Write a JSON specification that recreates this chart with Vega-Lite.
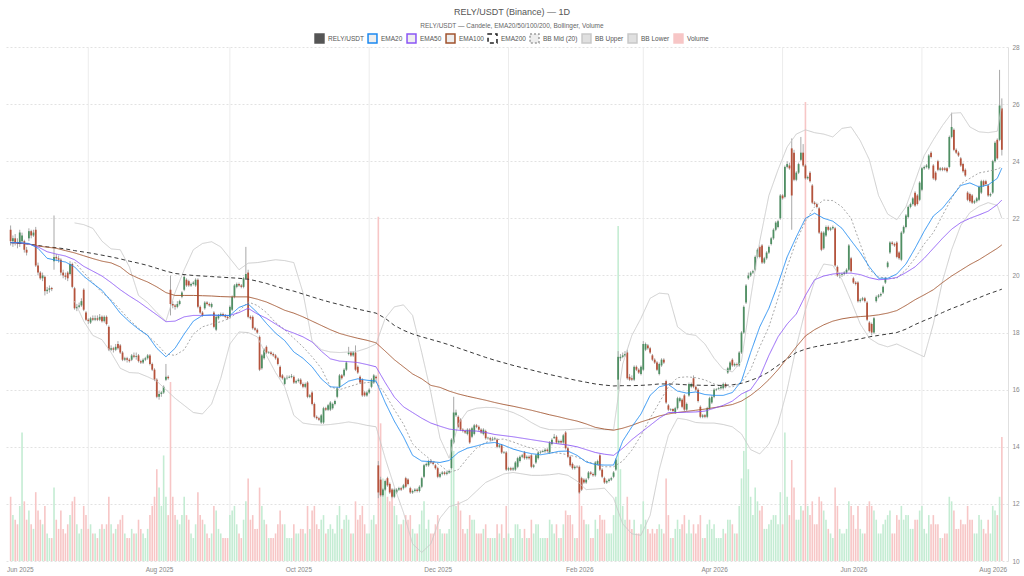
{
  "$schema": "https://vega.github.io/schema/vega-lite/v6.json",
  "width": 1004,
  "height": 514,
  "autosize": {"type": "none"},
  "padding": {"left": 4, "top": 47, "right": 16, "bottom": 15},
  "background": "white",
  "title": {
    "text": "RELY/USDT (Binance) — 1D",
    "subtitle": "RELY/USDT — Candele, EMA20/50/100/200, Bollinger, Volume",
    "fontSize": 9, "fontWeight": "normal", "color": "#555555",
    "subtitleFontSize": 6.5, "subtitleColor": "#666666", "subtitlePadding": 6,
    "anchor": "middle", "frame": "group", "offset": 4, "dx": 6
  },
  "datasets": {
    "grid": [
{"t":"2025-07-01"},{"t":"2025-09-01"},{"t":"2025-11-01"},{"t":"2026-01-01"},{"t":"2026-03-01"},{"t":"2026-05-01"},{"t":"2026-07-01"}
    ],
    "k": [
{"t":"2025-05-28","o":21.6,"h":21.75,"l":21.05,"c":21.2,"v":14},
{"t":"2025-05-29","o":21.2,"h":21.4,"l":21.0,"c":21.3,"v":10},
{"t":"2025-05-30","o":21.3,"h":21.45,"l":21.05,"c":21.15,"v":9},
{"t":"2025-05-31","o":21.15,"h":21.3,"l":20.95,"c":21.1,"v":8},
{"t":"2025-06-01","o":21.1,"h":21.6,"l":21.0,"c":21.5,"v":12},
{"t":"2025-06-02","o":21.2,"h":21.5,"l":21.1,"c":21.4,"v":28},
{"t":"2025-06-03","o":21.2,"h":21.25,"l":20.8,"c":20.9,"v":13},
{"t":"2025-06-04","o":20.9,"h":21.0,"l":20.7,"c":20.8,"v":9},
{"t":"2025-06-05","o":21.3,"h":21.65,"l":21.2,"c":21.55,"v":11},
{"t":"2025-06-06","o":21.55,"h":21.6,"l":21.3,"c":21.4,"v":8},
{"t":"2025-06-07","o":21.4,"h":21.6,"l":21.35,"c":21.5,"v":7},
{"t":"2025-06-08","o":21.6,"h":21.7,"l":20.3,"c":20.35,"v":15},
{"t":"2025-06-09","o":20.35,"h":20.45,"l":20.0,"c":20.1,"v":11},
{"t":"2025-06-10","o":20.1,"h":20.15,"l":19.85,"c":19.9,"v":9},
{"t":"2025-06-11","o":19.9,"h":20.1,"l":19.8,"c":20.0,"v":8},
{"t":"2025-06-12","o":19.95,"h":20.0,"l":19.3,"c":19.45,"v":12},
{"t":"2025-06-13","o":19.45,"h":19.6,"l":19.35,"c":19.5,"v":6},
{"t":"2025-06-14","o":19.5,"h":19.65,"l":19.4,"c":19.55,"v":5},
{"t":"2025-06-15","o":19.56,"h":19.6,"l":19.45,"c":19.52,"v":5},
{"t":"2025-06-16","o":20.5,"h":22.1,"l":20.2,"c":20.65,"v":16},
{"t":"2025-06-17","o":20.65,"h":20.75,"l":20.5,"c":20.6,"v":9},
{"t":"2025-06-18","o":20.6,"h":20.7,"l":20.45,"c":20.55,"v":7},
{"t":"2025-06-19","o":20.55,"h":20.6,"l":20.0,"c":20.1,"v":11},
{"t":"2025-06-20","o":20.1,"h":20.2,"l":19.9,"c":20.0,"v":7},
{"t":"2025-06-21","o":20.0,"h":20.1,"l":19.85,"c":19.95,"v":6},
{"t":"2025-06-22","o":20.1,"h":20.15,"l":19.8,"c":19.9,"v":8},
{"t":"2025-06-23","o":20.05,"h":20.5,"l":20.0,"c":20.4,"v":10},
{"t":"2025-06-24","o":20.4,"h":20.45,"l":19.55,"c":19.6,"v":13},
{"t":"2025-06-25","o":19.55,"h":19.6,"l":18.8,"c":18.85,"v":14},
{"t":"2025-06-26","o":18.85,"h":19.0,"l":18.75,"c":18.9,"v":8},
{"t":"2025-06-27","o":18.9,"h":19.05,"l":18.85,"c":18.95,"v":6},
{"t":"2025-06-28","o":18.95,"h":19.2,"l":18.9,"c":19.1,"v":7},
{"t":"2025-06-29","o":19.5,"h":19.55,"l":18.75,"c":18.8,"v":12},
{"t":"2025-06-30","o":18.7,"h":18.75,"l":18.4,"c":18.45,"v":10},
{"t":"2025-07-01","o":18.45,"h":18.5,"l":18.3,"c":18.4,"v":7},
{"t":"2025-07-02","o":18.35,"h":18.55,"l":18.3,"c":18.5,"v":8},
{"t":"2025-07-03","o":18.5,"h":18.6,"l":18.4,"c":18.45,"v":6},
{"t":"2025-07-04","o":18.45,"h":18.6,"l":18.4,"c":18.5,"v":6},
{"t":"2025-07-05","o":18.5,"h":18.6,"l":18.4,"c":18.45,"v":5},
{"t":"2025-07-06","o":18.45,"h":18.65,"l":18.4,"c":18.55,"v":7},
{"t":"2025-07-07","o":18.55,"h":18.6,"l":18.35,"c":18.4,"v":8},
{"t":"2025-07-08","o":18.4,"h":18.6,"l":18.35,"c":18.55,"v":7},
{"t":"2025-07-09","o":18.55,"h":18.6,"l":18.25,"c":18.3,"v":8},
{"t":"2025-07-10","o":18.2,"h":18.25,"l":17.35,"c":17.4,"v":14},
{"t":"2025-07-11","o":17.4,"h":17.55,"l":17.35,"c":17.45,"v":8},
{"t":"2025-07-12","o":17.45,"h":17.5,"l":17.3,"c":17.4,"v":6},
{"t":"2025-07-13","o":17.4,"h":17.6,"l":17.35,"c":17.5,"v":7},
{"t":"2025-07-14","o":17.6,"h":17.7,"l":17.4,"c":17.45,"v":8},
{"t":"2025-07-15","o":17.55,"h":17.6,"l":17.25,"c":17.3,"v":9},
{"t":"2025-07-16","o":17.3,"h":17.35,"l":17.0,"c":17.05,"v":10},
{"t":"2025-07-17","o":17.05,"h":17.15,"l":17.0,"c":17.1,"v":6},
{"t":"2025-07-18","o":17.1,"h":17.15,"l":16.95,"c":17.05,"v":5},
{"t":"2025-07-19","o":17.05,"h":17.1,"l":16.95,"c":17.0,"v":5},
{"t":"2025-07-20","o":17.05,"h":17.25,"l":17.0,"c":17.2,"v":7},
{"t":"2025-07-21","o":17.2,"h":17.3,"l":17.1,"c":17.15,"v":6},
{"t":"2025-07-22","o":17.15,"h":17.3,"l":17.05,"c":17.18,"v":6},
{"t":"2025-07-23","o":17.2,"h":17.25,"l":16.95,"c":17.0,"v":9},
{"t":"2025-07-24","o":17.0,"h":17.05,"l":16.9,"c":16.95,"v":7},
{"t":"2025-07-25","o":16.95,"h":17.1,"l":16.9,"c":17.05,"v":6},
{"t":"2025-07-26","o":17.05,"h":17.15,"l":17.0,"c":17.1,"v":5},
{"t":"2025-07-27","o":17.1,"h":17.25,"l":17.05,"c":17.2,"v":7},
{"t":"2025-07-28","o":17.2,"h":17.25,"l":16.85,"c":16.9,"v":10},
{"t":"2025-07-29","o":16.9,"h":16.95,"l":16.65,"c":16.7,"v":12},
{"t":"2025-07-30","o":16.7,"h":16.75,"l":16.3,"c":16.35,"v":14},
{"t":"2025-07-31","o":16.35,"h":16.4,"l":15.7,"c":15.75,"v":20},
{"t":"2025-08-01","o":15.75,"h":15.95,"l":15.65,"c":15.85,"v":16},
{"t":"2025-08-02","o":15.85,"h":15.95,"l":15.75,"c":15.9,"v":12},
{"t":"2025-08-03","o":15.9,"h":16.15,"l":15.85,"c":16.1,"v":23},
{"t":"2025-08-04","o":16.35,"h":16.9,"l":16.3,"c":16.45,"v":14},
{"t":"2025-08-05","o":16.45,"h":16.5,"l":16.35,"c":16.4,"v":10},
{"t":"2025-08-06","o":19.5,"h":20.0,"l":18.6,"c":19.0,"v":39},
{"t":"2025-08-07","o":19.0,"h":19.1,"l":18.85,"c":18.95,"v":14},
{"t":"2025-08-08","o":18.95,"h":19.0,"l":18.8,"c":18.9,"v":10},
{"t":"2025-08-09","o":18.9,"h":19.1,"l":18.85,"c":19.0,"v":9},
{"t":"2025-08-10","o":19.0,"h":19.15,"l":18.95,"c":19.1,"v":8},
{"t":"2025-08-11","o":19.25,"h":19.45,"l":19.2,"c":19.4,"v":10},
{"t":"2025-08-12","o":19.5,"h":20.05,"l":19.45,"c":19.95,"v":14},
{"t":"2025-08-13","o":19.85,"h":19.9,"l":19.6,"c":19.65,"v":10},
{"t":"2025-08-14","o":19.8,"h":19.85,"l":19.6,"c":19.65,"v":9},
{"t":"2025-08-15","o":19.65,"h":19.75,"l":19.6,"c":19.7,"v":6},
{"t":"2025-08-16","o":19.7,"h":19.8,"l":19.65,"c":19.75,"v":5},
{"t":"2025-08-17","o":19.65,"h":19.9,"l":19.6,"c":19.85,"v":8},
{"t":"2025-08-18","o":19.85,"h":19.9,"l":18.85,"c":18.9,"v":15},
{"t":"2025-08-19","o":18.9,"h":18.95,"l":18.65,"c":18.7,"v":10},
{"t":"2025-08-20","o":18.7,"h":18.75,"l":18.55,"c":18.6,"v":9},
{"t":"2025-08-21","o":18.85,"h":19.1,"l":18.8,"c":19.05,"v":8},
{"t":"2025-08-22","o":19.05,"h":19.1,"l":18.95,"c":19.0,"v":6},
{"t":"2025-08-23","o":19.0,"h":19.05,"l":18.9,"c":18.95,"v":5},
{"t":"2025-08-24","o":18.9,"h":19.05,"l":18.85,"c":19.0,"v":6},
{"t":"2025-08-25","o":18.7,"h":18.75,"l":18.15,"c":18.2,"v":12},
{"t":"2025-08-26","o":18.1,"h":18.6,"l":18.05,"c":18.55,"v":11},
{"t":"2025-08-27","o":18.5,"h":18.65,"l":18.45,"c":18.6,"v":7},
{"t":"2025-08-28","o":18.6,"h":18.7,"l":18.55,"c":18.65,"v":6},
{"t":"2025-08-29","o":18.65,"h":18.7,"l":18.55,"c":18.6,"v":5},
{"t":"2025-08-30","o":18.6,"h":18.65,"l":18.5,"c":18.55,"v":5},
{"t":"2025-08-31","o":18.55,"h":18.6,"l":18.45,"c":18.5,"v":5},
{"t":"2025-09-01","o":18.55,"h":18.95,"l":18.5,"c":18.9,"v":10},
{"t":"2025-09-02","o":18.8,"h":19.3,"l":18.75,"c":19.25,"v":11},
{"t":"2025-09-03","o":19.25,"h":19.7,"l":19.2,"c":19.65,"v":12},
{"t":"2025-09-04","o":19.6,"h":19.75,"l":19.55,"c":19.7,"v":8},
{"t":"2025-09-05","o":19.7,"h":19.75,"l":19.6,"c":19.65,"v":6},
{"t":"2025-09-06","o":19.65,"h":19.7,"l":19.55,"c":19.6,"v":5},
{"t":"2025-09-07","o":19.6,"h":19.95,"l":19.55,"c":19.9,"v":9},
{"t":"2025-09-08","o":19.9,"h":21.0,"l":19.85,"c":20.05,"v":13},
{"t":"2025-09-09","o":20.1,"h":20.2,"l":18.5,"c":18.55,"v":18},
{"t":"2025-09-10","o":18.55,"h":18.6,"l":18.45,"c":18.5,"v":9},
{"t":"2025-09-11","o":18.55,"h":18.6,"l":18.1,"c":18.15,"v":10},
{"t":"2025-09-12","o":18.15,"h":18.2,"l":18.05,"c":18.1,"v":7},
{"t":"2025-09-13","o":18.1,"h":18.15,"l":17.95,"c":18.0,"v":7},
{"t":"2025-09-14","o":17.85,"h":17.9,"l":16.65,"c":16.7,"v":16},
{"t":"2025-09-15","o":16.75,"h":17.25,"l":16.7,"c":17.2,"v":12},
{"t":"2025-09-16","o":17.1,"h":17.45,"l":17.05,"c":17.4,"v":9},
{"t":"2025-09-17","o":17.5,"h":17.55,"l":17.25,"c":17.3,"v":8},
{"t":"2025-09-18","o":17.3,"h":17.35,"l":17.25,"c":17.32,"v":5},
{"t":"2025-09-19","o":17.3,"h":17.35,"l":17.2,"c":17.25,"v":5},
{"t":"2025-09-20","o":17.25,"h":17.3,"l":17.15,"c":17.2,"v":5},
{"t":"2025-09-21","o":17.2,"h":17.25,"l":17.05,"c":17.1,"v":6},
{"t":"2025-09-22","o":17.1,"h":17.15,"l":16.85,"c":16.9,"v":8},
{"t":"2025-09-23","o":16.8,"h":16.85,"l":16.4,"c":16.45,"v":11},
{"t":"2025-09-24","o":16.5,"h":16.55,"l":16.35,"c":16.4,"v":8},
{"t":"2025-09-25","o":16.2,"h":16.45,"l":16.15,"c":16.4,"v":8},
{"t":"2025-09-26","o":16.4,"h":16.5,"l":16.35,"c":16.42,"v":5},
{"t":"2025-09-27","o":16.42,"h":16.5,"l":16.4,"c":16.45,"v":5},
{"t":"2025-09-28","o":16.45,"h":16.55,"l":16.4,"c":16.48,"v":5},
{"t":"2025-09-29","o":16.45,"h":16.5,"l":16.2,"c":16.25,"v":8},
{"t":"2025-09-30","o":16.25,"h":16.35,"l":16.2,"c":16.3,"v":6},
{"t":"2025-10-01","o":16.3,"h":16.4,"l":16.25,"c":16.35,"v":6},
{"t":"2025-10-02","o":16.35,"h":16.4,"l":16.15,"c":16.2,"v":7},
{"t":"2025-10-03","o":16.2,"h":16.25,"l":16.05,"c":16.1,"v":7},
{"t":"2025-10-04","o":16.1,"h":16.25,"l":16.05,"c":16.2,"v":6},
{"t":"2025-10-05","o":16.25,"h":16.3,"l":15.7,"c":15.75,"v":12},
{"t":"2025-10-06","o":15.75,"h":15.85,"l":15.7,"c":15.8,"v":7},
{"t":"2025-10-07","o":15.9,"h":15.95,"l":15.45,"c":15.5,"v":11},
{"t":"2025-10-08","o":15.5,"h":15.55,"l":15.0,"c":15.05,"v":12},
{"t":"2025-10-09","o":15.05,"h":15.1,"l":14.95,"c":15.0,"v":8},
{"t":"2025-10-10","o":15.0,"h":15.05,"l":14.9,"c":14.95,"v":7},
{"t":"2025-10-11","o":14.85,"h":15.15,"l":14.8,"c":15.1,"v":9},
{"t":"2025-10-12","o":14.85,"h":15.4,"l":14.8,"c":15.35,"v":10},
{"t":"2025-10-13","o":15.35,"h":15.4,"l":15.25,"c":15.3,"v":6},
{"t":"2025-10-14","o":15.3,"h":15.5,"l":15.25,"c":15.45,"v":7},
{"t":"2025-10-15","o":15.3,"h":15.6,"l":15.25,"c":15.55,"v":8},
{"t":"2025-10-16","o":15.35,"h":15.55,"l":15.3,"c":15.5,"v":7},
{"t":"2025-10-17","o":15.5,"h":15.65,"l":15.45,"c":15.6,"v":6},
{"t":"2025-10-18","o":15.75,"h":16.1,"l":15.7,"c":16.05,"v":10},
{"t":"2025-10-19","o":16.1,"h":16.55,"l":16.05,"c":16.5,"v":12},
{"t":"2025-10-20","o":16.5,"h":16.55,"l":16.35,"c":16.4,"v":7},
{"t":"2025-10-21","o":16.5,"h":16.75,"l":16.45,"c":16.7,"v":9},
{"t":"2025-10-22","o":16.7,"h":17.0,"l":16.65,"c":16.95,"v":10},
{"t":"2025-10-23","o":17.25,"h":17.5,"l":17.2,"c":17.3,"v":9},
{"t":"2025-10-24","o":17.3,"h":17.35,"l":17.15,"c":17.2,"v":6},
{"t":"2025-10-25","o":17.2,"h":17.35,"l":17.15,"c":17.3,"v":6},
{"t":"2025-10-26","o":17.3,"h":17.55,"l":16.65,"c":16.7,"v":13},
{"t":"2025-10-27","o":16.8,"h":16.85,"l":16.55,"c":16.6,"v":9},
{"t":"2025-10-28","o":16.45,"h":16.5,"l":16.2,"c":16.25,"v":10},
{"t":"2025-10-29","o":16.35,"h":16.4,"l":15.75,"c":15.8,"v":12},
{"t":"2025-10-30","o":15.9,"h":15.95,"l":15.75,"c":15.8,"v":8},
{"t":"2025-10-31","o":15.8,"h":15.95,"l":15.75,"c":15.9,"v":6},
{"t":"2025-11-01","o":15.9,"h":16.05,"l":15.85,"c":16.0,"v":6},
{"t":"2025-11-02","o":16.1,"h":16.4,"l":16.05,"c":16.35,"v":9},
{"t":"2025-11-03","o":16.25,"h":16.55,"l":16.2,"c":16.5,"v":10},
{"t":"2025-11-04","o":16.45,"h":16.5,"l":16.3,"c":16.4,"v":8},
{"t":"2025-11-05","o":13.35,"h":13.5,"l":12.2,"c":12.4,"v":75},
{"t":"2025-11-06","o":12.85,"h":12.95,"l":12.25,"c":12.3,"v":30},
{"t":"2025-11-07","o":12.3,"h":12.55,"l":12.25,"c":12.5,"v":18},
{"t":"2025-11-08","o":12.5,"h":12.85,"l":12.45,"c":12.8,"v":16},
{"t":"2025-11-09","o":12.9,"h":12.95,"l":12.6,"c":12.65,"v":14},
{"t":"2025-11-10","o":12.7,"h":12.75,"l":12.35,"c":12.4,"v":13},
{"t":"2025-11-11","o":12.5,"h":12.55,"l":12.2,"c":12.25,"v":14},
{"t":"2025-11-12","o":12.25,"h":12.55,"l":12.2,"c":12.5,"v":12},
{"t":"2025-11-13","o":12.4,"h":12.55,"l":12.35,"c":12.5,"v":10},
{"t":"2025-11-14","o":12.5,"h":12.6,"l":12.45,"c":12.55,"v":8},
{"t":"2025-11-15","o":12.55,"h":12.6,"l":12.45,"c":12.5,"v":8},
{"t":"2025-11-16","o":12.55,"h":12.7,"l":12.5,"c":12.65,"v":9},
{"t":"2025-11-17","o":12.9,"h":12.95,"l":12.55,"c":12.6,"v":10},
{"t":"2025-11-18","o":12.85,"h":12.9,"l":12.65,"c":12.7,"v":9},
{"t":"2025-11-19","o":12.55,"h":12.6,"l":12.35,"c":12.4,"v":10},
{"t":"2025-11-20","o":12.4,"h":12.5,"l":12.35,"c":12.45,"v":7},
{"t":"2025-11-21","o":12.45,"h":12.55,"l":12.4,"c":12.5,"v":6},
{"t":"2025-11-22","o":12.5,"h":12.55,"l":12.4,"c":12.45,"v":6},
{"t":"2025-11-23","o":12.45,"h":12.65,"l":12.4,"c":12.6,"v":8},
{"t":"2025-11-24","o":12.6,"h":12.95,"l":12.55,"c":12.9,"v":11},
{"t":"2025-11-25","o":12.95,"h":13.4,"l":12.9,"c":13.35,"v":13},
{"t":"2025-11-26","o":13.35,"h":13.45,"l":13.3,"c":13.4,"v":7},
{"t":"2025-11-27","o":13.35,"h":13.55,"l":13.3,"c":13.5,"v":9},
{"t":"2025-11-28","o":13.5,"h":13.55,"l":13.4,"c":13.45,"v":6},
{"t":"2025-11-29","o":13.45,"h":13.5,"l":13.35,"c":13.4,"v":6},
{"t":"2025-11-30","o":13.35,"h":13.4,"l":13.2,"c":13.25,"v":8},
{"t":"2025-12-01","o":13.25,"h":13.3,"l":12.9,"c":12.95,"v":10},
{"t":"2025-12-02","o":12.95,"h":13.1,"l":12.9,"c":13.05,"v":7},
{"t":"2025-12-03","o":13.05,"h":13.15,"l":13.0,"c":13.1,"v":6},
{"t":"2025-12-04","o":13.1,"h":13.15,"l":13.0,"c":13.05,"v":6},
{"t":"2025-12-05","o":13.05,"h":13.15,"l":13.0,"c":13.1,"v":6},
{"t":"2025-12-06","o":13.1,"h":13.2,"l":13.05,"c":13.15,"v":7},
{"t":"2025-12-07","o":13.25,"h":14.3,"l":13.2,"c":14.25,"v":20},
{"t":"2025-12-08","o":14.15,"h":15.75,"l":14.1,"c":15.2,"v":24},
{"t":"2025-12-09","o":15.1,"h":15.3,"l":15.05,"c":15.2,"v":12},
{"t":"2025-12-10","o":15.05,"h":15.1,"l":14.65,"c":14.7,"v":13},
{"t":"2025-12-11","o":14.95,"h":15.0,"l":14.55,"c":14.6,"v":11},
{"t":"2025-12-12","o":14.6,"h":14.65,"l":14.5,"c":14.55,"v":7},
{"t":"2025-12-13","o":14.55,"h":14.6,"l":14.45,"c":14.5,"v":6},
{"t":"2025-12-14","o":14.45,"h":14.65,"l":14.4,"c":14.6,"v":7},
{"t":"2025-12-15","o":14.6,"h":14.65,"l":14.1,"c":14.15,"v":10},
{"t":"2025-12-16","o":14.35,"h":14.7,"l":14.3,"c":14.65,"v":9},
{"t":"2025-12-17","o":14.45,"h":14.8,"l":14.4,"c":14.75,"v":9},
{"t":"2025-12-18","o":14.75,"h":14.8,"l":14.65,"c":14.7,"v":6},
{"t":"2025-12-19","o":14.7,"h":14.75,"l":14.55,"c":14.6,"v":6},
{"t":"2025-12-20","o":14.6,"h":14.65,"l":14.45,"c":14.5,"v":6},
{"t":"2025-12-21","o":14.45,"h":14.65,"l":14.4,"c":14.6,"v":7},
{"t":"2025-12-22","o":14.55,"h":14.6,"l":14.25,"c":14.3,"v":8},
{"t":"2025-12-23","o":14.3,"h":14.35,"l":14.25,"c":14.32,"v":5},
{"t":"2025-12-24","o":14.3,"h":14.35,"l":14.2,"c":14.25,"v":5},
{"t":"2025-12-25","o":14.25,"h":14.35,"l":14.2,"c":14.28,"v":5},
{"t":"2025-12-26","o":14.28,"h":14.35,"l":14.25,"c":14.3,"v":5},
{"t":"2025-12-27","o":14.25,"h":14.3,"l":13.95,"c":14.0,"v":8},
{"t":"2025-12-28","o":14.0,"h":14.1,"l":13.95,"c":14.05,"v":6},
{"t":"2025-12-29","o":14.05,"h":14.1,"l":13.75,"c":13.8,"v":8},
{"t":"2025-12-30","o":13.8,"h":13.85,"l":13.75,"c":13.82,"v":5},
{"t":"2025-12-31","o":13.8,"h":13.85,"l":13.15,"c":13.2,"v":12},
{"t":"2026-01-01","o":13.2,"h":13.3,"l":13.15,"c":13.25,"v":6},
{"t":"2026-01-02","o":13.25,"h":13.3,"l":13.15,"c":13.2,"v":5},
{"t":"2026-01-03","o":13.2,"h":13.3,"l":13.15,"c":13.25,"v":5},
{"t":"2026-01-04","o":13.2,"h":13.5,"l":13.15,"c":13.45,"v":8},
{"t":"2026-01-05","o":13.3,"h":13.65,"l":13.25,"c":13.6,"v":8},
{"t":"2026-01-06","o":13.5,"h":13.7,"l":13.45,"c":13.65,"v":7},
{"t":"2026-01-07","o":13.65,"h":13.75,"l":13.6,"c":13.7,"v":5},
{"t":"2026-01-08","o":13.8,"h":13.85,"l":13.55,"c":13.6,"v":7},
{"t":"2026-01-09","o":13.6,"h":13.7,"l":13.55,"c":13.65,"v":5},
{"t":"2026-01-10","o":13.65,"h":13.7,"l":13.55,"c":13.6,"v":5},
{"t":"2026-01-11","o":13.7,"h":13.75,"l":13.25,"c":13.3,"v":9},
{"t":"2026-01-12","o":13.3,"h":13.4,"l":13.25,"c":13.35,"v":6},
{"t":"2026-01-13","o":13.45,"h":13.75,"l":13.4,"c":13.7,"v":8},
{"t":"2026-01-14","o":13.6,"h":13.85,"l":13.55,"c":13.8,"v":8},
{"t":"2026-01-15","o":13.8,"h":13.85,"l":13.75,"c":13.82,"v":5},
{"t":"2026-01-16","o":13.82,"h":13.9,"l":13.8,"c":13.85,"v":5},
{"t":"2026-01-17","o":13.85,"h":13.95,"l":13.8,"c":13.9,"v":5},
{"t":"2026-01-18","o":13.9,"h":13.95,"l":13.8,"c":13.85,"v":5},
{"t":"2026-01-19","o":13.8,"h":14.2,"l":13.75,"c":14.15,"v":9},
{"t":"2026-01-20","o":14.1,"h":14.3,"l":14.05,"c":14.25,"v":8},
{"t":"2026-01-21","o":14.3,"h":14.45,"l":14.28,"c":14.35,"v":6},
{"t":"2026-01-22","o":14.35,"h":14.4,"l":14.1,"c":14.15,"v":8},
{"t":"2026-01-23","o":14.15,"h":14.25,"l":14.1,"c":14.2,"v":5},
{"t":"2026-01-24","o":14.2,"h":14.25,"l":14.1,"c":14.15,"v":5},
{"t":"2026-01-25","o":14.15,"h":14.45,"l":14.1,"c":14.4,"v":8},
{"t":"2026-01-26","o":14.5,"h":14.55,"l":13.9,"c":13.95,"v":11},
{"t":"2026-01-27","o":13.95,"h":14.0,"l":13.6,"c":13.65,"v":10},
{"t":"2026-01-28","o":13.65,"h":13.7,"l":13.3,"c":13.35,"v":10},
{"t":"2026-01-29","o":13.4,"h":13.45,"l":13.2,"c":13.25,"v":8},
{"t":"2026-01-30","o":13.25,"h":13.35,"l":13.2,"c":13.3,"v":5},
{"t":"2026-01-31","o":13.3,"h":13.35,"l":13.25,"c":13.28,"v":5},
{"t":"2026-02-01","o":13.3,"h":13.35,"l":12.35,"c":12.4,"v":15},
{"t":"2026-02-02","o":12.9,"h":12.95,"l":12.45,"c":12.5,"v":12},
{"t":"2026-02-03","o":12.85,"h":12.9,"l":12.7,"c":12.75,"v":9},
{"t":"2026-02-04","o":12.75,"h":12.9,"l":12.7,"c":12.85,"v":8},
{"t":"2026-02-05","o":12.9,"h":13.15,"l":12.85,"c":13.1,"v":8},
{"t":"2026-02-06","o":13.1,"h":13.15,"l":13.0,"c":13.05,"v":5},
{"t":"2026-02-07","o":13.05,"h":13.1,"l":12.95,"c":13.0,"v":5},
{"t":"2026-02-08","o":13.0,"h":13.5,"l":12.95,"c":13.45,"v":9},
{"t":"2026-02-09","o":13.4,"h":13.55,"l":13.35,"c":13.5,"v":7},
{"t":"2026-02-10","o":13.7,"h":13.75,"l":13.15,"c":13.2,"v":10},
{"t":"2026-02-11","o":13.2,"h":13.25,"l":12.9,"c":12.95,"v":9},
{"t":"2026-02-12","o":12.9,"h":12.95,"l":12.7,"c":12.75,"v":9},
{"t":"2026-02-13","o":12.75,"h":12.85,"l":12.7,"c":12.8,"v":6},
{"t":"2026-02-14","o":12.8,"h":12.9,"l":12.75,"c":12.85,"v":6},
{"t":"2026-02-15","o":12.85,"h":12.95,"l":12.8,"c":12.9,"v":6},
{"t":"2026-02-16","o":12.95,"h":13.15,"l":12.9,"c":13.1,"v":10},
{"t":"2026-02-17","o":13.2,"h":13.6,"l":13.15,"c":13.55,"v":14},
{"t":"2026-02-18","o":16.35,"h":17.35,"l":16.0,"c":17.15,"v":73},
{"t":"2026-02-19","o":17.1,"h":17.25,"l":17.0,"c":17.15,"v":20},
{"t":"2026-02-20","o":17.15,"h":17.3,"l":17.1,"c":17.2,"v":12},
{"t":"2026-02-21","o":17.2,"h":17.35,"l":17.15,"c":17.25,"v":9},
{"t":"2026-02-22","o":17.3,"h":17.4,"l":16.35,"c":16.4,"v":14},
{"t":"2026-02-23","o":16.45,"h":16.55,"l":16.3,"c":16.35,"v":9},
{"t":"2026-02-24","o":16.4,"h":16.5,"l":16.3,"c":16.35,"v":7},
{"t":"2026-02-25","o":16.35,"h":16.85,"l":16.3,"c":16.8,"v":9},
{"t":"2026-02-26","o":16.8,"h":16.85,"l":16.65,"c":16.7,"v":6},
{"t":"2026-02-27","o":16.7,"h":16.75,"l":16.55,"c":16.6,"v":6},
{"t":"2026-02-28","o":16.55,"h":16.85,"l":16.5,"c":16.8,"v":8},
{"t":"2026-03-01","o":16.7,"h":17.7,"l":16.65,"c":17.6,"v":13},
{"t":"2026-03-02","o":17.4,"h":17.65,"l":17.35,"c":17.6,"v":9},
{"t":"2026-03-03","o":17.55,"h":17.6,"l":17.4,"c":17.45,"v":7},
{"t":"2026-03-04","o":17.45,"h":17.5,"l":17.25,"c":17.3,"v":6},
{"t":"2026-03-05","o":17.2,"h":17.25,"l":17.0,"c":17.05,"v":7},
{"t":"2026-03-06","o":17.05,"h":17.1,"l":16.9,"c":16.95,"v":6},
{"t":"2026-03-07","o":16.95,"h":17.0,"l":16.65,"c":16.7,"v":7},
{"t":"2026-03-08","o":16.55,"h":16.95,"l":16.5,"c":16.9,"v":8},
{"t":"2026-03-09","o":16.85,"h":17.1,"l":16.8,"c":17.05,"v":7},
{"t":"2026-03-10","o":17.05,"h":17.1,"l":16.9,"c":16.95,"v":6},
{"t":"2026-03-11","o":16.3,"h":16.35,"l":15.5,"c":15.55,"v":18},
{"t":"2026-03-12","o":15.45,"h":15.5,"l":15.25,"c":15.3,"v":10},
{"t":"2026-03-13","o":15.3,"h":15.35,"l":15.25,"c":15.32,"v":5},
{"t":"2026-03-14","o":15.32,"h":15.35,"l":15.2,"c":15.25,"v":5},
{"t":"2026-03-15","o":15.2,"h":15.4,"l":15.15,"c":15.35,"v":7},
{"t":"2026-03-16","o":15.35,"h":15.75,"l":15.3,"c":15.7,"v":9},
{"t":"2026-03-17","o":15.6,"h":15.75,"l":15.55,"c":15.7,"v":7},
{"t":"2026-03-18","o":15.65,"h":15.7,"l":15.35,"c":15.4,"v":8},
{"t":"2026-03-19","o":15.8,"h":15.85,"l":15.25,"c":15.3,"v":10},
{"t":"2026-03-20","o":15.3,"h":15.55,"l":15.25,"c":15.5,"v":6},
{"t":"2026-03-21","o":15.8,"h":16.25,"l":15.75,"c":16.2,"v":9},
{"t":"2026-03-22","o":16.1,"h":16.25,"l":16.05,"c":16.2,"v":6},
{"t":"2026-03-23","o":16.4,"h":16.5,"l":16.05,"c":16.1,"v":8},
{"t":"2026-03-24","o":16.1,"h":16.15,"l":15.95,"c":16.0,"v":6},
{"t":"2026-03-25","o":16.0,"h":16.05,"l":15.55,"c":15.6,"v":8},
{"t":"2026-03-26","o":15.4,"h":15.45,"l":15.0,"c":15.05,"v":10},
{"t":"2026-03-27","o":15.05,"h":15.15,"l":15.0,"c":15.1,"v":5},
{"t":"2026-03-28","o":15.1,"h":15.15,"l":15.0,"c":15.05,"v":5},
{"t":"2026-03-29","o":15.05,"h":15.4,"l":15.0,"c":15.35,"v":8},
{"t":"2026-03-30","o":15.35,"h":15.75,"l":15.3,"c":15.7,"v":9},
{"t":"2026-03-31","o":15.55,"h":15.8,"l":15.5,"c":15.75,"v":7},
{"t":"2026-04-01","o":15.75,"h":16.05,"l":15.7,"c":16.0,"v":8},
{"t":"2026-04-02","o":16.0,"h":16.05,"l":15.95,"c":16.02,"v":5},
{"t":"2026-04-03","o":16.02,"h":16.1,"l":16.0,"c":16.05,"v":5},
{"t":"2026-04-04","o":16.05,"h":16.15,"l":16.0,"c":16.1,"v":5},
{"t":"2026-04-05","o":16.05,"h":16.25,"l":16.0,"c":16.2,"v":7},
{"t":"2026-04-06","o":16.2,"h":16.25,"l":16.05,"c":16.1,"v":6},
{"t":"2026-04-07","o":16.6,"h":16.8,"l":16.55,"c":16.75,"v":9},
{"t":"2026-04-08","o":16.7,"h":17.0,"l":16.65,"c":16.95,"v":9},
{"t":"2026-04-09","o":17.05,"h":17.1,"l":16.8,"c":16.85,"v":8},
{"t":"2026-04-10","o":16.85,"h":16.95,"l":16.8,"c":16.9,"v":6},
{"t":"2026-04-11","o":16.9,"h":16.95,"l":16.8,"c":16.87,"v":6},
{"t":"2026-04-12","o":16.85,"h":17.35,"l":16.8,"c":17.3,"v":12},
{"t":"2026-04-13","o":17.3,"h":18.05,"l":17.25,"c":18.0,"v":18},
{"t":"2026-04-14","o":18.0,"h":18.95,"l":17.95,"c":18.9,"v":24},
{"t":"2026-04-15","o":19.05,"h":19.7,"l":19.0,"c":19.65,"v":37},
{"t":"2026-04-16","o":19.9,"h":20.1,"l":19.85,"c":20.0,"v":20},
{"t":"2026-04-17","o":20.0,"h":20.15,"l":19.95,"c":20.1,"v":14},
{"t":"2026-04-18","o":20.1,"h":20.2,"l":20.05,"c":20.15,"v":10},
{"t":"2026-04-19","o":20.2,"h":20.7,"l":20.15,"c":20.65,"v":16},
{"t":"2026-04-20","o":20.65,"h":20.95,"l":20.6,"c":20.9,"v":13},
{"t":"2026-04-21","o":21.0,"h":21.05,"l":20.6,"c":20.65,"v":11},
{"t":"2026-04-22","o":21.05,"h":21.1,"l":20.4,"c":20.45,"v":12},
{"t":"2026-04-23","o":20.45,"h":20.65,"l":20.4,"c":20.6,"v":7},
{"t":"2026-04-24","o":20.6,"h":20.85,"l":20.55,"c":20.8,"v":7},
{"t":"2026-04-25","o":20.8,"h":21.05,"l":20.75,"c":21.0,"v":8},
{"t":"2026-04-26","o":21.1,"h":21.35,"l":21.05,"c":21.3,"v":9},
{"t":"2026-04-27","o":21.3,"h":21.65,"l":21.25,"c":21.6,"v":10},
{"t":"2026-04-28","o":21.6,"h":21.9,"l":21.55,"c":21.85,"v":10},
{"t":"2026-04-29","o":21.7,"h":21.95,"l":21.65,"c":21.9,"v":8},
{"t":"2026-04-30","o":22.0,"h":22.85,"l":21.95,"c":22.8,"v":15},
{"t":"2026-05-01","o":22.8,"h":22.85,"l":22.65,"c":22.7,"v":8},
{"t":"2026-05-02","o":22.75,"h":23.85,"l":22.7,"c":23.8,"v":28},
{"t":"2026-05-03","o":23.8,"h":24.0,"l":23.75,"c":23.9,"v":14},
{"t":"2026-05-04","o":23.85,"h":23.95,"l":23.7,"c":23.75,"v":10},
{"t":"2026-05-05","o":24.45,"h":24.8,"l":21.6,"c":22.8,"v":22},
{"t":"2026-05-06","o":24.3,"h":24.4,"l":23.3,"c":23.35,"v":16},
{"t":"2026-05-07","o":23.35,"h":23.65,"l":23.3,"c":23.6,"v":9},
{"t":"2026-05-08","o":23.6,"h":23.95,"l":23.55,"c":23.9,"v":9},
{"t":"2026-05-09","o":24.05,"h":24.85,"l":24.0,"c":24.3,"v":12},
{"t":"2026-05-10","o":24.3,"h":24.6,"l":23.8,"c":23.85,"v":11},
{"t":"2026-05-11","o":23.85,"h":23.9,"l":23.35,"c":23.4,"v":100},
{"t":"2026-05-12","o":23.4,"h":23.5,"l":23.35,"c":23.45,"v":12},
{"t":"2026-05-13","o":23.6,"h":23.65,"l":23.25,"c":23.3,"v":10},
{"t":"2026-05-14","o":23.15,"h":23.2,"l":22.5,"c":22.55,"v":13},
{"t":"2026-05-15","o":22.55,"h":22.6,"l":22.45,"c":22.5,"v":8},
{"t":"2026-05-16","o":22.5,"h":22.55,"l":22.35,"c":22.4,"v":8},
{"t":"2026-05-17","o":22.35,"h":22.4,"l":21.45,"c":21.5,"v":14},
{"t":"2026-05-18","o":21.5,"h":21.55,"l":20.85,"c":20.9,"v":13},
{"t":"2026-05-19","o":20.95,"h":21.55,"l":20.9,"c":21.5,"v":11},
{"t":"2026-05-20","o":21.4,"h":21.75,"l":21.35,"c":21.7,"v":9},
{"t":"2026-05-21","o":21.7,"h":21.75,"l":21.55,"c":21.6,"v":7},
{"t":"2026-05-22","o":21.6,"h":21.7,"l":21.55,"c":21.65,"v":6},
{"t":"2026-05-23","o":21.65,"h":21.75,"l":21.6,"c":21.7,"v":5},
{"t":"2026-05-24","o":21.65,"h":21.7,"l":20.3,"c":20.35,"v":16},
{"t":"2026-05-25","o":20.3,"h":20.35,"l":19.95,"c":20.0,"v":12},
{"t":"2026-05-26","o":20.0,"h":20.1,"l":19.9,"c":20.02,"v":7},
{"t":"2026-05-27","o":20.02,"h":20.1,"l":19.95,"c":20.05,"v":6},
{"t":"2026-05-28","o":20.05,"h":20.15,"l":20.0,"c":20.1,"v":6},
{"t":"2026-05-29","o":20.1,"h":20.25,"l":20.05,"c":20.2,"v":7},
{"t":"2026-05-30","o":20.2,"h":21.1,"l":20.15,"c":21.05,"v":13},
{"t":"2026-05-31","o":20.6,"h":20.65,"l":20.1,"c":20.15,"v":12},
{"t":"2026-06-01","o":19.9,"h":19.95,"l":19.7,"c":19.75,"v":10},
{"t":"2026-06-02","o":19.75,"h":19.8,"l":19.65,"c":19.7,"v":7},
{"t":"2026-06-03","o":19.75,"h":19.8,"l":19.05,"c":19.1,"v":12},
{"t":"2026-06-04","o":19.1,"h":19.2,"l":19.05,"c":19.15,"v":7},
{"t":"2026-06-05","o":19.15,"h":19.25,"l":19.1,"c":19.2,"v":6},
{"t":"2026-06-06","o":19.2,"h":19.25,"l":19.05,"c":19.1,"v":6},
{"t":"2026-06-07","o":19.05,"h":19.1,"l":18.4,"c":18.45,"v":12},
{"t":"2026-06-08","o":18.35,"h":18.4,"l":18.0,"c":18.05,"v":13},
{"t":"2026-06-09","o":18.3,"h":18.35,"l":17.9,"c":18.0,"v":12},
{"t":"2026-06-10","o":18.0,"h":18.55,"l":17.95,"c":18.5,"v":11},
{"t":"2026-06-11","o":19.1,"h":19.3,"l":19.05,"c":19.25,"v":9},
{"t":"2026-06-12","o":19.25,"h":19.35,"l":19.2,"c":19.3,"v":6},
{"t":"2026-06-13","o":19.3,"h":19.4,"l":19.25,"c":19.35,"v":6},
{"t":"2026-06-14","o":19.4,"h":19.65,"l":19.35,"c":19.6,"v":8},
{"t":"2026-06-15","o":19.75,"h":19.95,"l":19.7,"c":19.9,"v":9},
{"t":"2026-06-16","o":20.3,"h":20.5,"l":20.25,"c":20.45,"v":10},
{"t":"2026-06-17","o":20.8,"h":21.2,"l":20.75,"c":21.15,"v":11},
{"t":"2026-06-18","o":21.15,"h":21.2,"l":21.05,"c":21.1,"v":6},
{"t":"2026-06-19","o":21.1,"h":21.15,"l":21.0,"c":21.05,"v":6},
{"t":"2026-06-20","o":21.15,"h":21.2,"l":20.6,"c":20.65,"v":10},
{"t":"2026-06-21","o":20.8,"h":20.85,"l":20.55,"c":20.6,"v":9},
{"t":"2026-06-22","o":20.55,"h":21.55,"l":20.5,"c":21.5,"v":12},
{"t":"2026-06-23","o":21.5,"h":21.75,"l":21.45,"c":21.7,"v":9},
{"t":"2026-06-24","o":21.7,"h":22.15,"l":21.65,"c":22.1,"v":10},
{"t":"2026-06-25","o":22.05,"h":22.45,"l":22.0,"c":22.4,"v":10},
{"t":"2026-06-26","o":22.4,"h":22.55,"l":22.35,"c":22.5,"v":7},
{"t":"2026-06-27","o":22.5,"h":22.75,"l":22.45,"c":22.7,"v":7},
{"t":"2026-06-28","o":22.9,"h":22.95,"l":22.4,"c":22.45,"v":9},
{"t":"2026-06-29","o":22.8,"h":22.85,"l":22.45,"c":22.5,"v":9},
{"t":"2026-06-30","o":22.65,"h":23.3,"l":22.6,"c":23.25,"v":11},
{"t":"2026-07-01","o":23.0,"h":23.8,"l":22.95,"c":23.75,"v":12},
{"t":"2026-07-02","o":23.75,"h":23.85,"l":23.7,"c":23.8,"v":7},
{"t":"2026-07-03","o":23.8,"h":23.9,"l":23.75,"c":23.85,"v":6},
{"t":"2026-07-04","o":23.75,"h":24.25,"l":23.7,"c":24.2,"v":10},
{"t":"2026-07-05","o":24.3,"h":24.35,"l":24.1,"c":24.15,"v":8},
{"t":"2026-07-06","o":23.85,"h":23.9,"l":23.35,"c":23.4,"v":10},
{"t":"2026-07-07","o":23.6,"h":23.65,"l":23.3,"c":23.35,"v":8},
{"t":"2026-07-08","o":24.0,"h":24.05,"l":23.65,"c":23.7,"v":8},
{"t":"2026-07-09","o":23.7,"h":23.8,"l":23.65,"c":23.75,"v":5},
{"t":"2026-07-10","o":23.75,"h":23.8,"l":23.65,"c":23.7,"v":5},
{"t":"2026-07-11","o":23.75,"h":23.8,"l":23.65,"c":23.7,"v":6},
{"t":"2026-07-12","o":23.75,"h":23.8,"l":23.6,"c":23.65,"v":6},
{"t":"2026-07-13","o":23.8,"h":24.9,"l":23.75,"c":24.85,"v":14},
{"t":"2026-07-14","o":24.85,"h":25.7,"l":24.8,"c":25.2,"v":13},
{"t":"2026-07-15","o":25.1,"h":25.15,"l":24.35,"c":24.4,"v":11},
{"t":"2026-07-16","o":24.4,"h":24.45,"l":24.25,"c":24.3,"v":7},
{"t":"2026-07-17","o":24.3,"h":24.35,"l":24.15,"c":24.2,"v":7},
{"t":"2026-07-18","o":24.1,"h":24.15,"l":23.8,"c":23.85,"v":9},
{"t":"2026-07-19","o":23.9,"h":23.95,"l":23.6,"c":23.65,"v":8},
{"t":"2026-07-20","o":23.7,"h":23.75,"l":23.45,"c":23.5,"v":8},
{"t":"2026-07-21","o":22.9,"h":22.95,"l":22.6,"c":22.65,"v":12},
{"t":"2026-07-22","o":22.85,"h":22.9,"l":22.55,"c":22.6,"v":9},
{"t":"2026-07-23","o":22.8,"h":22.85,"l":22.5,"c":22.55,"v":9},
{"t":"2026-07-24","o":22.55,"h":22.65,"l":22.5,"c":22.6,"v":6},
{"t":"2026-07-25","o":22.6,"h":22.75,"l":22.55,"c":22.7,"v":6},
{"t":"2026-07-26","o":22.65,"h":23.15,"l":22.6,"c":23.1,"v":10},
{"t":"2026-07-27","o":22.9,"h":23.35,"l":22.85,"c":23.3,"v":9},
{"t":"2026-07-28","o":23.3,"h":23.35,"l":23.1,"c":23.15,"v":7},
{"t":"2026-07-29","o":23.3,"h":23.35,"l":23.15,"c":23.2,"v":6},
{"t":"2026-07-30","o":23.15,"h":23.2,"l":22.75,"c":22.8,"v":9},
{"t":"2026-07-31","o":22.8,"h":22.9,"l":22.75,"c":22.85,"v":6},
{"t":"2026-08-01","o":22.9,"h":24.05,"l":22.85,"c":24.0,"v":12},
{"t":"2026-08-02","o":24.0,"h":24.7,"l":23.95,"c":24.65,"v":11},
{"t":"2026-08-03","o":24.75,"h":24.8,"l":24.05,"c":24.1,"v":10},
{"t":"2026-08-04","o":24.75,"h":27.2,"l":24.7,"c":25.95,"v":14},
{"t":"2026-08-05","o":25.85,"h":26.2,"l":24.2,"c":24.4,"v":27}
    ],
    "ind": [
{"t":"2025-05-28","e20":21.15,"e50":21.15,"e100":21.15,"e200":21.15},
{"t":"2025-06-01","e20":21.15,"e50":21.14,"e100":21.13,"e200":21.13},
{"t":"2025-06-05","e20":21.12,"e50":21.1,"e100":21.1,"e200":21.1},
{"t":"2025-06-09","e20":20.95,"e50":21.0,"e100":21.03,"e200":21.05},
{"t":"2025-06-13","e20":20.6,"e50":20.83,"e100":20.99,"e200":21.0},
{"t":"2025-06-17","e20":20.53,"e50":20.75,"e100":20.95,"e200":20.97},
{"t":"2025-06-21","e20":20.47,"e50":20.68,"e100":20.87,"e200":20.93},
{"t":"2025-06-25","e20":20.3,"e50":20.55,"e100":20.79,"e200":20.87,"bm":20.47,"bu":21.84,"bl":19.1},
{"t":"2025-06-29","e20":19.97,"e50":20.32,"e100":20.69,"e200":20.82,"bm":20.1,"bu":21.78,"bl":18.4},
{"t":"2025-07-03","e20":19.72,"e50":20.15,"e100":20.59,"e200":20.77,"bm":19.75,"bu":21.65,"bl":17.9},
{"t":"2025-07-07","e20":19.48,"e50":19.98,"e100":20.5,"e200":20.71,"bm":19.4,"bu":21.2,"bl":17.75},
{"t":"2025-07-11","e20":19.1,"e50":19.75,"e100":20.44,"e200":20.65,"bm":19.15,"bu":20.93,"bl":17.3},
{"t":"2025-07-15","e20":18.68,"e50":19.5,"e100":20.3,"e200":20.58,"bm":18.8,"bu":20.9,"bl":16.75},
{"t":"2025-07-19","e20":18.38,"e50":19.28,"e100":20.05,"e200":20.5,"bm":18.45,"bu":20.3,"bl":16.6},
{"t":"2025-07-23","e20":18.12,"e50":19.08,"e100":19.9,"e200":20.43,"bm":18.15,"bu":19.3,"bl":16.58},
{"t":"2025-07-27","e20":17.9,"e50":18.85,"e100":19.77,"e200":20.35,"bm":17.9,"bu":19.05,"bl":16.45},
{"t":"2025-07-31","e20":17.45,"e50":18.62,"e100":19.6,"e200":20.25,"bm":17.6,"bu":18.7,"bl":16.3},
{"t":"2025-08-04","e20":17.15,"e50":18.38,"e100":19.4,"e200":20.15,"bm":17.25,"bu":18.4,"bl":16.0},
{"t":"2025-08-08","e20":17.45,"e50":18.4,"e100":19.3,"e200":20.07,"bm":17.2,"bu":19.4,"bl":15.7},
{"t":"2025-08-12","e20":17.95,"e50":18.55,"e100":19.3,"e200":20.03,"bm":17.4,"bu":20.2,"bl":15.45},
{"t":"2025-08-16","e20":18.4,"e50":18.6,"e100":19.3,"e200":20.0,"bm":17.95,"bu":20.9,"bl":15.2},
{"t":"2025-08-20","e20":18.6,"e50":18.6,"e100":19.29,"e200":19.98,"bm":18.2,"bu":21.12,"bl":15.15},
{"t":"2025-08-24","e20":18.62,"e50":18.6,"e100":19.28,"e200":19.96,"bm":18.3,"bu":21.18,"bl":15.5},
{"t":"2025-08-28","e20":18.6,"e50":18.6,"e100":19.26,"e200":19.94,"bm":18.38,"bu":21.0,"bl":16.4},
{"t":"2025-09-01","e20":18.6,"e50":18.6,"e100":19.25,"e200":19.92,"bm":18.5,"bu":20.6,"bl":17.6},
{"t":"2025-09-05","e20":18.88,"e50":18.7,"e100":19.25,"e200":19.9,"bm":18.75,"bu":20.2,"bl":18.02},
{"t":"2025-09-09","e20":19.0,"e50":18.85,"e100":19.25,"e200":19.87,"bm":19.07,"bu":20.43,"bl":18.0},
{"t":"2025-09-13","e20":18.7,"e50":18.65,"e100":19.17,"e200":19.8,"bm":18.95,"bu":20.45,"bl":17.85},
{"t":"2025-09-17","e20":18.32,"e50":18.5,"e100":19.07,"e200":19.72,"bm":18.7,"bu":20.5,"bl":17.2},
{"t":"2025-09-21","e20":17.98,"e50":18.3,"e100":18.93,"e200":19.62,"bm":18.35,"bu":20.55,"bl":16.6},
{"t":"2025-09-25","e20":17.72,"e50":18.1,"e100":18.78,"e200":19.53,"bm":18.1,"bu":20.52,"bl":16.1},
{"t":"2025-09-29","e20":17.32,"e50":17.98,"e100":18.68,"e200":19.45,"bm":17.8,"bu":20.45,"bl":15.1},
{"t":"2025-10-03","e20":17.1,"e50":17.85,"e100":18.55,"e200":19.35,"bm":17.5,"bu":19.4,"bl":14.83},
{"t":"2025-10-07","e20":16.8,"e50":17.67,"e100":18.4,"e200":19.25,"bm":17.15,"bu":17.7,"bl":14.78},
{"t":"2025-10-11","e20":16.38,"e50":17.35,"e100":18.25,"e200":19.15,"bm":16.75,"bu":17.4,"bl":14.76},
{"t":"2025-10-15","e20":16.1,"e50":17.08,"e100":18.1,"e200":19.06,"bm":16.1,"bu":17.32,"bl":14.78},
{"t":"2025-10-19","e20":16.08,"e50":17.0,"e100":17.97,"e200":18.98,"bm":16.0,"bu":17.3,"bl":14.82},
{"t":"2025-10-23","e20":16.3,"e50":16.98,"e100":17.88,"e200":18.9,"bm":16.1,"bu":17.32,"bl":14.87},
{"t":"2025-10-27","e20":16.38,"e50":16.95,"e100":17.8,"e200":18.82,"bm":16.2,"bu":17.35,"bl":14.82},
{"t":"2025-10-31","e20":16.33,"e50":16.88,"e100":17.73,"e200":18.75,"bm":16.25,"bu":17.45,"bl":14.75},
{"t":"2025-11-04","e20":16.3,"e50":16.8,"e100":17.64,"e200":18.68,"bm":16.27,"bu":17.6,"bl":14.7},
{"t":"2025-11-08","e20":15.55,"e50":16.25,"e100":17.35,"e200":18.5,"bm":15.85,"bu":18.5,"bl":13.6},
{"t":"2025-11-12","e20":14.9,"e50":15.74,"e100":17.05,"e200":18.25,"bm":15.3,"bu":18.9,"bl":12.6},
{"t":"2025-11-16","e20":14.35,"e50":15.4,"e100":16.8,"e200":18.08,"bm":14.8,"bu":18.97,"bl":11.7},
{"t":"2025-11-20","e20":13.7,"e50":15.2,"e100":16.55,"e200":17.95,"bm":14.1,"bu":18.6,"bl":10.6},
{"t":"2025-11-24","e20":13.5,"e50":15.0,"e100":16.38,"e200":17.85,"bm":13.8,"bu":17.3,"bl":10.3},
{"t":"2025-11-28","e20":13.48,"e50":14.83,"e100":16.15,"e200":17.76,"bm":13.54,"bu":15.9,"bl":10.6},
{"t":"2025-12-02","e20":13.45,"e50":14.72,"e100":16.08,"e200":17.67,"bm":13.36,"bu":14.3,"bl":11.5},
{"t":"2025-12-06","e20":13.52,"e50":14.62,"e100":15.95,"e200":17.57,"bm":13.1,"bu":13.6,"bl":11.9},
{"t":"2025-12-10","e20":13.8,"e50":14.58,"e100":15.85,"e200":17.46,"bm":13.2,"bu":14.8,"bl":12.0},
{"t":"2025-12-14","e20":13.95,"e50":14.56,"e100":15.77,"e200":17.35,"bm":13.6,"bu":15.25,"bl":12.15},
{"t":"2025-12-18","e20":14.03,"e50":14.55,"e100":15.7,"e200":17.24,"bm":13.95,"bu":15.35,"bl":12.45},
{"t":"2025-12-22","e20":14.12,"e50":14.5,"e100":15.63,"e200":17.13,"bm":14.15,"bu":15.38,"bl":12.75},
{"t":"2025-12-26","e20":14.15,"e50":14.43,"e100":15.55,"e200":17.03,"bm":14.25,"bu":15.37,"bl":12.9},
{"t":"2025-12-30","e20":14.05,"e50":14.39,"e100":15.48,"e200":16.94,"bm":14.27,"bu":15.3,"bl":13.05},
{"t":"2026-01-03","e20":13.92,"e50":14.35,"e100":15.42,"e200":16.85,"bm":14.17,"bu":15.2,"bl":13.1},
{"t":"2026-01-07","e20":13.83,"e50":14.3,"e100":15.35,"e200":16.77,"bm":14.05,"bu":15.05,"bl":13.05},
{"t":"2026-01-11","e20":13.76,"e50":14.25,"e100":15.28,"e200":16.69,"bm":13.95,"bu":14.85,"bl":13.0},
{"t":"2026-01-15","e20":13.72,"e50":14.2,"e100":15.2,"e200":16.61,"bm":13.85,"bu":14.68,"bl":13.0},
{"t":"2026-01-19","e20":13.77,"e50":14.15,"e100":15.12,"e200":16.53,"bm":13.8,"bu":14.6,"bl":13.02},
{"t":"2026-01-23","e20":13.84,"e50":14.1,"e100":15.05,"e200":16.46,"bm":13.78,"bu":14.59,"bl":13.06},
{"t":"2026-01-27","e20":13.85,"e50":14.06,"e100":14.97,"e200":16.39,"bm":13.72,"bu":14.6,"bl":13.0},
{"t":"2026-01-31","e20":13.7,"e50":14.0,"e100":14.9,"e200":16.32,"bm":13.64,"bu":14.63,"bl":12.8},
{"t":"2026-02-04","e20":13.47,"e50":13.9,"e100":14.8,"e200":16.26,"bm":13.5,"bu":14.65,"bl":12.5},
{"t":"2026-02-08","e20":13.38,"e50":13.8,"e100":14.68,"e200":16.2,"bm":13.38,"bu":14.62,"bl":12.52},
{"t":"2026-02-12","e20":13.36,"e50":13.74,"e100":14.62,"e200":16.16,"bm":13.3,"bu":14.6,"bl":12.55},
{"t":"2026-02-16","e20":13.36,"e50":13.7,"e100":14.58,"e200":16.13,"bm":13.3,"bu":14.6,"bl":12.2},
{"t":"2026-02-20","e20":14.2,"e50":13.95,"e100":14.65,"e200":16.14,"bm":13.5,"bu":16.9,"bl":11.3},
{"t":"2026-02-24","e20":14.7,"e50":14.25,"e100":14.75,"e200":16.14,"bm":13.88,"bu":17.9,"bl":10.95},
{"t":"2026-02-28","e20":15.15,"e50":14.5,"e100":14.87,"e200":16.15,"bm":14.4,"bu":18.5,"bl":10.9},
{"t":"2026-03-04","e20":15.8,"e50":14.75,"e100":14.97,"e200":16.17,"bm":15.0,"bu":19.2,"bl":11.6},
{"t":"2026-03-08","e20":16.1,"e50":15.0,"e100":15.08,"e200":16.2,"bm":15.55,"bu":19.38,"bl":13.2},
{"t":"2026-03-12","e20":16.18,"e50":15.2,"e100":15.15,"e200":16.2,"bm":16.1,"bu":19.35,"bl":14.4},
{"t":"2026-03-16","e20":15.95,"e50":15.2,"e100":15.2,"e200":16.19,"bm":16.42,"bu":18.2,"bl":15.0},
{"t":"2026-03-20","e20":15.88,"e50":15.21,"e100":15.24,"e200":16.17,"bm":16.45,"bu":17.95,"bl":14.95},
{"t":"2026-03-24","e20":15.92,"e50":15.22,"e100":15.28,"e200":16.16,"bm":16.42,"bu":17.9,"bl":14.85},
{"t":"2026-03-28","e20":15.83,"e50":15.25,"e100":15.32,"e200":16.15,"bm":16.34,"bu":17.6,"bl":14.83},
{"t":"2026-04-01","e20":15.8,"e50":15.35,"e100":15.37,"e200":16.15,"bm":16.2,"bu":17.1,"bl":14.83},
{"t":"2026-04-05","e20":15.8,"e50":15.45,"e100":15.42,"e200":16.15,"bm":16.1,"bu":16.72,"bl":14.78},
{"t":"2026-04-09","e20":15.9,"e50":15.6,"e100":15.48,"e200":16.17,"bm":16.1,"bu":16.62,"bl":14.7},
{"t":"2026-04-13","e20":16.3,"e50":15.85,"e100":15.6,"e200":16.22,"bm":16.25,"bu":17.0,"bl":14.45},
{"t":"2026-04-17","e20":17.3,"e50":16.0,"e100":15.8,"e200":16.32,"bm":16.7,"bu":19.2,"bl":13.9},
{"t":"2026-04-21","e20":18.2,"e50":16.45,"e100":16.05,"e200":16.45,"bm":17.5,"bu":21.2,"bl":13.75},
{"t":"2026-04-25","e20":18.85,"e50":17.2,"e100":16.35,"e200":16.62,"bm":18.2,"bu":22.8,"bl":14.1},
{"t":"2026-04-29","e20":19.7,"e50":17.85,"e100":16.7,"e200":16.85,"bm":19.2,"bu":23.7,"bl":14.8},
{"t":"2026-05-03","e20":20.65,"e50":18.3,"e100":17.1,"e200":17.08,"bm":20.3,"bu":24.5,"bl":16.0},
{"t":"2026-05-07","e20":21.35,"e50":18.65,"e100":17.5,"e200":17.3,"bm":21.2,"bu":24.95,"bl":17.5},
{"t":"2026-05-11","e20":22.0,"e50":19.3,"e100":17.88,"e200":17.42,"bm":21.9,"bu":25.1,"bl":18.8},
{"t":"2026-05-15","e20":22.18,"e50":19.85,"e100":18.1,"e200":17.5,"bm":22.4,"bu":25.0,"bl":19.8},
{"t":"2026-05-19","e20":22.0,"e50":19.98,"e100":18.27,"e200":17.56,"bm":22.64,"bu":24.95,"bl":20.4},
{"t":"2026-05-23","e20":21.9,"e50":20.05,"e100":18.4,"e200":17.61,"bm":22.62,"bu":24.85,"bl":20.35},
{"t":"2026-05-27","e20":21.65,"e50":20.08,"e100":18.48,"e200":17.66,"bm":22.4,"bu":25.15,"bl":19.85},
{"t":"2026-05-31","e20":21.22,"e50":20.08,"e100":18.53,"e200":17.72,"bm":22.0,"bu":25.2,"bl":19.1},
{"t":"2026-06-04","e20":20.8,"e50":20.03,"e100":18.56,"e200":17.78,"bm":21.1,"bu":24.72,"bl":18.3},
{"t":"2026-06-08","e20":20.3,"e50":19.92,"e100":18.58,"e200":17.85,"bm":20.2,"bu":24.05,"bl":17.8},
{"t":"2026-06-12","e20":19.9,"e50":19.85,"e100":18.62,"e200":17.9,"bm":19.95,"bu":22.8,"bl":17.6},
{"t":"2026-06-16","e20":19.9,"e50":19.87,"e100":18.68,"e200":17.95,"bm":19.9,"bu":22.15,"bl":17.5},
{"t":"2026-06-20","e20":20.05,"e50":19.93,"e100":18.77,"e200":18.0,"bm":19.9,"bu":21.95,"bl":17.6},
{"t":"2026-06-24","e20":20.4,"e50":20.1,"e100":18.95,"e200":18.12,"bm":20.2,"bu":22.4,"bl":17.45},
{"t":"2026-06-28","e20":20.95,"e50":20.3,"e100":19.15,"e200":18.28,"bm":20.6,"bu":23.3,"bl":17.3},
{"t":"2026-07-02","e20":21.55,"e50":20.6,"e100":19.32,"e200":18.42,"bm":21.1,"bu":24.2,"bl":17.15},
{"t":"2026-07-06","e20":22.08,"e50":20.95,"e100":19.5,"e200":18.55,"bm":21.5,"bu":24.75,"bl":18.3},
{"t":"2026-07-10","e20":22.35,"e50":21.3,"e100":19.75,"e200":18.7,"bm":22.1,"bu":25.25,"bl":19.8},
{"t":"2026-07-14","e20":22.75,"e50":21.62,"e100":19.98,"e200":18.84,"bm":22.7,"bu":25.68,"bl":20.9},
{"t":"2026-07-18","e20":23.15,"e50":21.85,"e100":20.18,"e200":18.96,"bm":23.2,"bu":25.7,"bl":21.75},
{"t":"2026-07-22","e20":23.24,"e50":22.0,"e100":20.38,"e200":19.1,"bm":23.4,"bu":25.2,"bl":22.2},
{"t":"2026-07-26","e20":23.1,"e50":22.12,"e100":20.55,"e200":19.22,"bm":23.59,"bu":25.03,"bl":22.42},
{"t":"2026-07-30","e20":23.17,"e50":22.25,"e100":20.75,"e200":19.35,"bm":23.65,"bu":25.0,"bl":22.55},
{"t":"2026-08-03","e20":23.4,"e50":22.48,"e100":20.95,"e200":19.46,"bm":23.72,"bu":25.05,"bl":22.45},
{"t":"2026-08-05","e20":23.76,"e50":22.64,"e100":21.07,"e200":19.52,"bm":23.8,"bu":26.0,"bl":22.0}
    ]
  },
  "encoding": {
    "x": {
      "field": "t",
      "type": "temporal",
      "title": null,
      "scale": {
        "type": "utc",
        "domain": [
          {"year": 2025, "month": 5, "date": 27, "hours": 7, "utc": true},
          {"year": 2026, "month": 8, "date": 5, "hours": 12, "utc": true}
        ]
      },
      "axis": {
        "values": [
          {"year": 2025, "month": 6, "date": 1, "utc": true},
          {"year": 2025, "month": 8, "date": 1, "utc": true},
          {"year": 2025, "month": 10, "date": 1, "utc": true},
          {"year": 2025, "month": 12, "date": 1, "utc": true},
          {"year": 2026, "month": 2, "date": 1, "utc": true},
          {"year": 2026, "month": 4, "date": 1, "utc": true},
          {"year": 2026, "month": 6, "date": 1, "utc": true},
          {"year": 2026, "month": 8, "date": 1, "utc": true}
        ],
        "format": "%b %Y",
        "grid": false,
        "ticks": false,
        "domain": false,
        "labelFlush": false,
        "labelOverlap": false,
        "labelFontSize": 6.5,
        "labelColor": "#888888",
        "labelPadding": 5
      }
    }
  },
  "layer": [
    {
      "data": {"name": "grid"},
      "mark": {"type": "rule", "color": "#ececec", "strokeWidth": 1},
      "encoding": {}
    },
    {
      "data": {"name": "k"},
      "mark": {"type": "bar", "width": 1.6},
      "encoding": {
        "y": {"field": "v", "type": "quantitative", "scale": {"domain": [0, 112], "nice": false}, "axis": null},
        "color": {"condition": {"test": "datum.c >= datum.o", "value": "#c4ecd3"}, "value": "#f7c6c6"}
      }
    },
    {
      "layer": [
        {
          "data": {"name": "k"},
          "mark": {"type": "rule", "color": "#a8a8a8", "strokeWidth": 1},
          "encoding": {
            "y": {
              "field": "l", "type": "quantitative", "title": null,
              "scale": {"domain": [10, 28], "nice": false, "zero": false},
              "axis": {
                "orient": "right",
                "values": [10, 12, 14, 16, 18, 20, 22, 24, 26, 28],
                "grid": true, "gridDash": [2, 2], "gridColor": "#e2e2e2",
                "domain": true, "domainColor": "#e0e0e0",
                "ticks": false,
                "labelFontSize": 6.5, "labelColor": "#888888", "labelPadding": 4
              }
            },
            "y2": {"field": "h"}
          }
        },
        {
          "data": {"name": "k"},
          "mark": {"type": "bar", "width": 1.8},
          "encoding": {
            "y": {"field": "o", "type": "quantitative", "title": null, "scale": {"domain": [10, 28], "nice": false, "zero": false}},
            "y2": {"field": "c"},
            "color": {"condition": {"test": "datum.c >= datum.o", "value": "#4f8f63"}, "value": "#b5533c"}
          }
        },
        {
          "data": {"name": "ind"},
          "transform": [{"fold": ["bu", "bl", "bm", "e200", "e100", "e50", "e20"], "as": ["k", "val"]}],
          "mark": {"type": "line"},
          "encoding": {
            "y": {"field": "val", "type": "quantitative", "title": null, "scale": {"domain": [10, 28], "nice": false, "zero": false}},
            "color": {
              "field": "k", "type": "nominal",
              "scale": {
                "domain": ["px", "e20", "e50", "e100", "e200", "bm", "bu", "bl", "vol"],
                "range": ["#555555", "#1a88f0", "#8a55f5", "#a0522d", "#222222", "#9e9e9e", "#c8c8c8", "#c8c8c8", "#f7c6c6"]
              },
              "legend": {
                "orient": "none", "legendX": 310, "legendY": -14,
                "direction": "horizontal", "columns": 9, "title": null,
                "symbolType": "square", "symbolSize": 80, "symbolStrokeWidth": 1.5,
                "symbolFillColor": "#eeeeee",
                "labelFontSize": 6.5, "labelColor": "#555555", "labelOffset": 3, "columnPadding": 1,
                "labelExpr": "datum.label == 'px' ? 'RELY/USDT' : datum.label == 'e20' ? 'EMA20' : datum.label == 'e50' ? 'EMA50' : datum.label == 'e100' ? 'EMA100' : datum.label == 'e200' ? 'EMA200' : datum.label == 'bm' ? 'BB Mid (20)' : datum.label == 'bu' ? 'BB Upper' : datum.label == 'bl' ? 'BB Lower' : 'Volume'",
                "encode": {
                  "symbols": {
                    "update": {
                      "fill": [
                        {"test": "datum.value === 'px'", "value": "#555555"},
                        {"test": "datum.value === 'vol'", "value": "#f7c6c6"},
                        {"test": "datum.value === 'bu' || datum.value === 'bl'", "value": "#e0e0e0"},
                        {"test": "datum.value === 'e200'", "value": "#ffffff"},
                        {"value": "#eeeeee"}
                      ]
                    }
                  }
                }
              }
            },
            "strokeDash": {
              "field": "k", "type": "nominal",
              "scale": {
                "domain": ["px", "e20", "e50", "e100", "e200", "bm", "bu", "bl", "vol"],
                "range": [[1, 0], [1, 0], [1, 0], [1, 0], [4, 3], [2, 2], [1, 0], [1, 0], [1, 0]]
              },
              "legend": {
                "orient": "none", "legendX": 310, "legendY": -14,
                "direction": "horizontal", "columns": 9, "title": null,
                "symbolType": "square", "symbolSize": 80, "symbolStrokeWidth": 1.5,
                "symbolFillColor": "#eeeeee",
                "labelFontSize": 6.5, "labelColor": "#555555", "labelOffset": 3, "columnPadding": 1,
                "labelExpr": "datum.label == 'px' ? 'RELY/USDT' : datum.label == 'e20' ? 'EMA20' : datum.label == 'e50' ? 'EMA50' : datum.label == 'e100' ? 'EMA100' : datum.label == 'e200' ? 'EMA200' : datum.label == 'bm' ? 'BB Mid (20)' : datum.label == 'bu' ? 'BB Upper' : datum.label == 'bl' ? 'BB Lower' : 'Volume'"
              }
            },
            "strokeWidth": {
              "field": "k", "type": "nominal", "legend": null,
              "scale": {"domain": ["bu", "bl", "bm", "e200", "e100", "e50", "e20"], "range": [0.9, 0.9, 0.9, 1.4, 1.5, 1.6, 1.7]}
            }
          }
        }
      ]
    }
  ],
  "resolve": {"scale": {"y": "independent"}},
  "config": {
    "font": "Liberation Sans",
    "view": {"stroke": null},
    "axis": {"labelFont": "Liberation Sans"},
    "legend": {"labelFont": "Liberation Sans"}
  }
}
